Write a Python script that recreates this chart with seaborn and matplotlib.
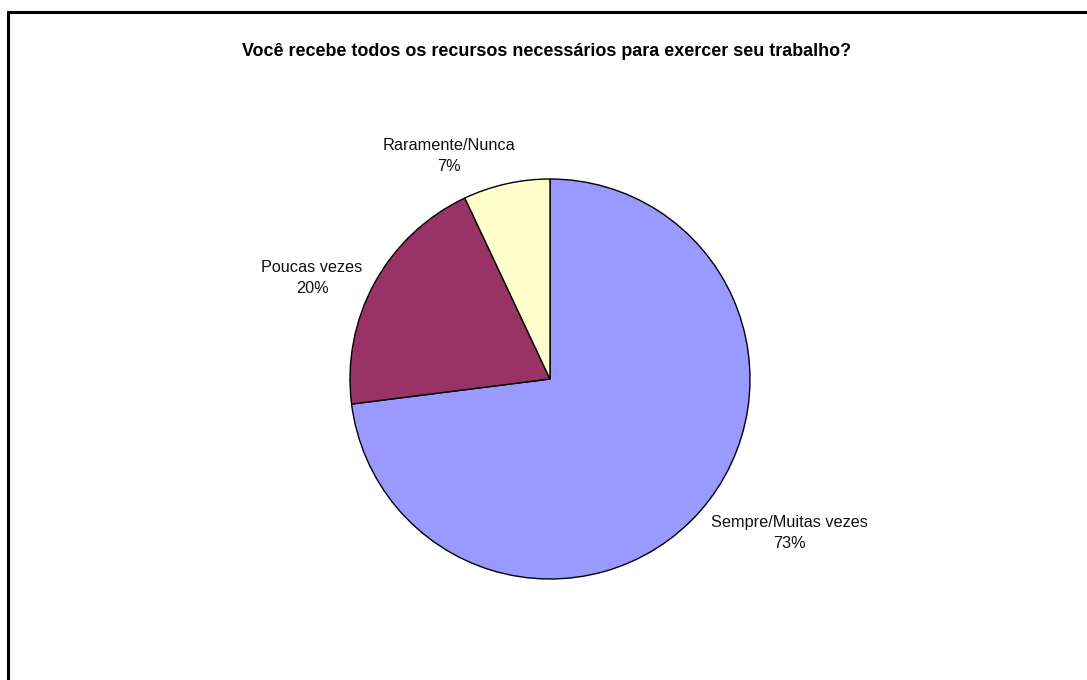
import matplotlib
matplotlib.use("Agg")
import matplotlib.pyplot as plt
import seaborn as sns
from matplotlib.patches import Rectangle

# Survey answers
categories = ["Sempre/Muitas vezes", "Poucas vezes", "Raramente/Nunca"]
shares = [73, 20, 7]
title = "Você recebe todos os recursos necessários para exercer seu trabalho?"

sns.set_theme(style="white")
plt.rcParams["font.family"] = ["Liberation Sans", "DejaVu Sans"]
colors = sns.color_palette(["#9999FF", "#993366", "#FFFFCC"])

W, H = 1087, 680
fig = plt.figure(figsize=(W / 100, H / 100), dpi=100)
fig.patch.set_facecolor("white")

# outer frame (open on the right/bottom edges of the canvas)
fig.patches.append(Rectangle((8 / W, -0.1), 1.2, 1 - 12 / H + 0.1,
                             transform=fig.transFigure, fill=False,
                             edgecolor="black", linewidth=2.2))

# pie axes: centre (550, 379) px, radius 200 px
cx, cy, r = 550, 379, 200
ax = fig.add_axes([(cx - r) / W, 1 - (cy + r) / H, 2 * r / W, 2 * r / H])
wedges, _ = ax.pie(shares, colors=colors, startangle=90, counterclock=False,
                   radius=1.0, wedgeprops=dict(edgecolor="black", linewidth=1.0))
ax.set_xlim(-1, 1)
ax.set_ylim(-1, 1)
ax.set_aspect("equal")
ax.axis("off")

# slice labels (pixel anchors for each text block)
label_px = [(789, 533), (312, 278), (449, 156)]
for name, val, (px, py) in zip(categories, shares, label_px):
    fig.text(px / W, 1 - py / H, f"{name}\n{val}%", ha="center", va="center",
             fontsize=11.7, linespacing=1.5, color="#111111")

fig.text(547 / W, 1 - 52 / H, title, ha="center", va="center",
         fontsize=12.9, fontweight="bold", color="black")

fig.savefig("out.png", dpi=100, facecolor="white")
